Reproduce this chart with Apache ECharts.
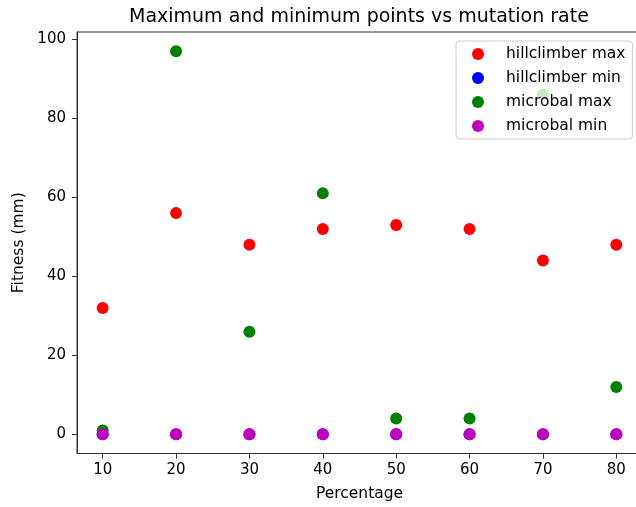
<!DOCTYPE html>
<html>
<head>
<meta charset="utf-8">
<script src="https://cdn.jsdelivr.net/npm/echarts@6/dist/echarts.min.js"></script>
<style>
    html, body { margin: 0; padding: 0; background: #fff; }
    #chart { width: 636px; height: 507px; }
</style>
</head>
<body>
<div id="chart"></div>
<script>
// mutation rate (%)
const percentages = [10, 20, 30, 40, 50, 60, 70, 80];

// fitness values
const hillclimberMax = [32, 56, 48, 52, 53, 52, 44, 48];
const hillclimberMin = [0, 0, 0, 0, 0, 0, 0, 0];
const microbalMax = [1, 97, 26, 61, 4, 4, 86, 12];
const microbalMin = [0, 0, 0, 0, 0, 0, 0, 0];

const xTicks = [10, 20, 30, 40, 50, 60, 70, 80];
const yTicks = [0, 20, 40, 60, 80, 100];

const FONT = 'DejaVu Sans';

function pairs(ys) {
    return percentages.map((x, i) => [x, ys[i]]);
}

function scatter(name, ys, color) {
    return {
        name: name,
        type: 'scatter',
        symbol: 'circle',
        symbolSize: 12,
        itemStyle: { color: color, opacity: 1 },
        data: pairs(ys)
    };
}

let myChart = echarts.init(document.getElementById('chart'));

let option = {
    backgroundColor: '#fff',
    animation: false,
    textStyle: { fontFamily: FONT },
    title: {
        text: 'Maximum and minimum points vs mutation rate',
        left: 124,
        top: 3,
        textStyle: { fontFamily: FONT, fontSize: 19, fontWeight: 'normal', color: '#000' }
    },
    legend: {
        orient: 'vertical',
        left: 456,
        top: 41,
        padding: [5, 7, 5, 16],
        itemWidth: 12,
        itemHeight: 12,
        itemGap: 8,
        icon: 'circle',
        backgroundColor: 'rgba(255,255,255,0.8)',
        borderColor: '#cccccc',
        borderWidth: 1,
        borderRadius: 3,
        textStyle: {
            fontFamily: FONT,
            fontSize: 15.5,
            lineHeight: 16,
            color: '#000',
            padding: [0, 0, 0, 17]
        },
        data: ['hillclimber max', 'hillclimber min', 'microbal max', 'microbal min']
    },
    grid: {
        left: 77,
        top: 32,
        bottom: 53.5,
        width: 565,
        outerBoundsMode: 'none',
        containLabel: false,
        show: true,
        borderColor: '#333',
        borderWidth: 1,
        backgroundColor: 'transparent'
    },
    xAxis: {
        type: 'value',
        min: 6.5,
        max: 83.5,
        name: 'Percentage',
        nameLocation: 'middle',
        nameGap: 32,
        nameTextStyle: { fontFamily: FONT, fontSize: 15.5, color: '#000' },
        splitLine: { show: false },
        axisLine: { show: true, onZero: false, lineStyle: { color: '#333', width: 1 } },
        axisTick: { show: true, length: 5, customValues: xTicks, lineStyle: { color: '#333' } },
        axisLabel: { customValues: xTicks, margin: 9, fontFamily: FONT, fontSize: 15, color: '#000' }
    },
    yAxis: {
        type: 'value',
        min: -4.85,
        max: 101.85,
        name: 'Fitness (mm)',
        nameLocation: 'middle',
        nameRotate: 90,
        nameGap: 48,
        nameTextStyle: { fontFamily: FONT, fontSize: 15.5, color: '#000' },
        splitLine: { show: false },
        axisLine: { show: true, onZero: false, lineStyle: { color: '#333', width: 1 } },
        axisTick: { show: true, length: 5, customValues: yTicks, lineStyle: { color: '#333' } },
        axisLabel: { customValues: yTicks, margin: 11, fontFamily: FONT, fontSize: 15, color: '#000' }
    },
    series: [
        scatter('hillclimber max', hillclimberMax, '#ff0000'),
        scatter('hillclimber min', hillclimberMin, '#0000ff'),
        scatter('microbal max', microbalMax, '#008000'),
        scatter('microbal min', microbalMin, '#bf00bf')
    ]
};

myChart.setOption(option);
</script>
</body>
</html>
